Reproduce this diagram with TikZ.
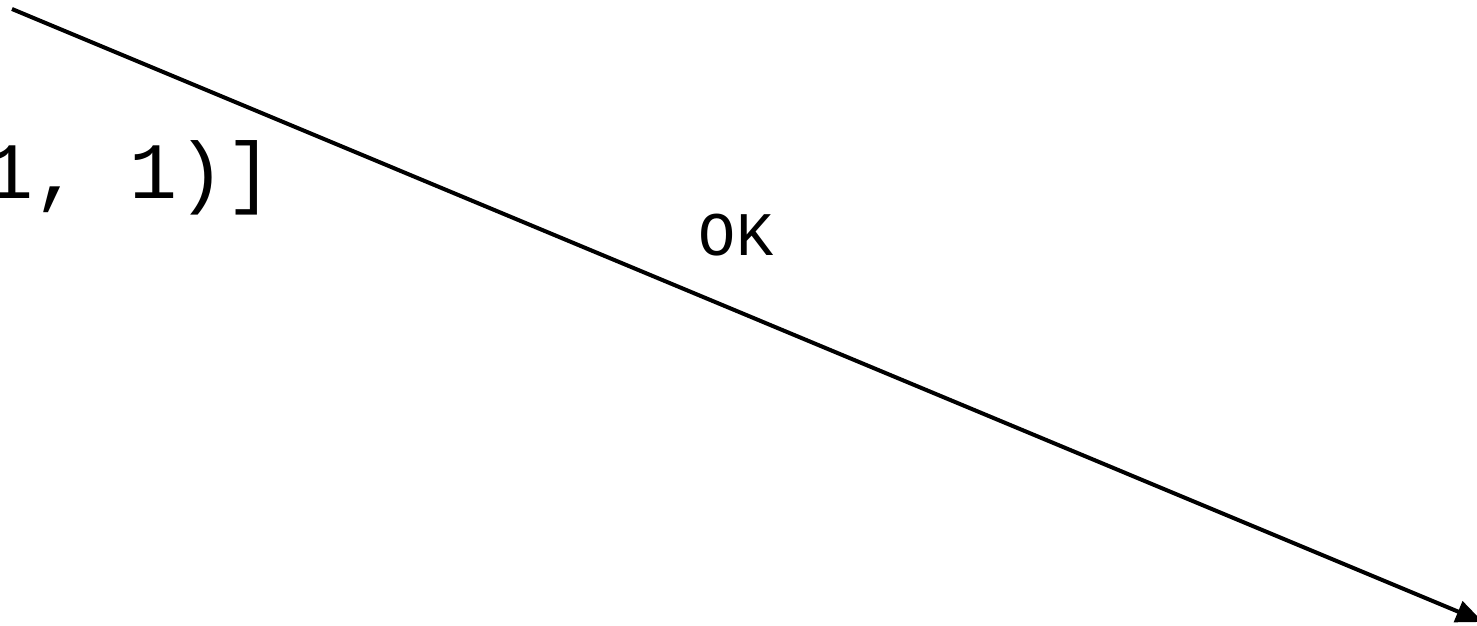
\documentclass[tikz,border=0pt]{standalone}
\usepackage{fontspec}
\setmonofont{Liberation Mono}
\usetikzlibrary{arrows.meta}
\tikzset{
  conn/.style={line width=4pt, -{Triangle[length=27pt,width=22pt]}},
  codetext/.style={font=\ttfamily\fontsize{80}{96}\selectfont, inner sep=0pt},
  edgelabel/.style={font=\ttfamily\fontsize{62}{74}\selectfont, inner sep=0pt}
}
\begin{document}
\begin{tikzpicture}[x=1pt,y=-1pt]
\useasboundingbox (0,0) rectangle (1477,626);
\node[codetext, anchor=base east] (code) at (274,198) {1, 1)]};
\coordinate (start) at (12,9);
\coordinate (finish) at (1483,622);
\draw[conn] (start) -- (finish);
\node[edgelabel, anchor=base] (ok) at (736,255) {OK};
\end{tikzpicture}
\end{document}
